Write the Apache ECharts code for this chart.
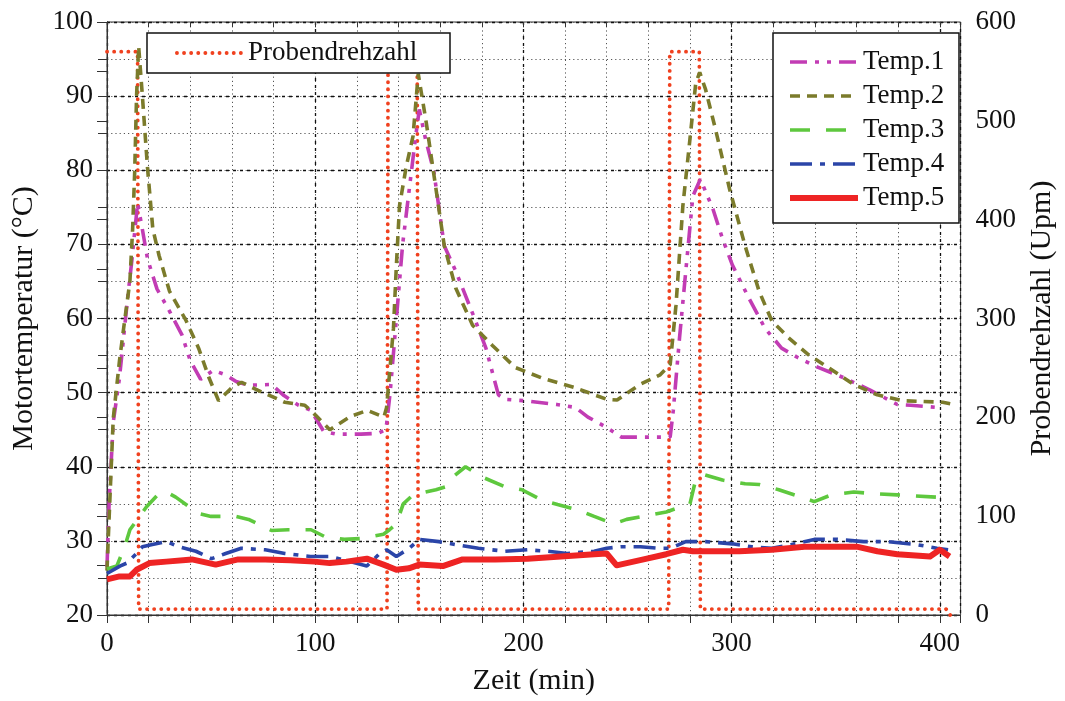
<!DOCTYPE html>
<html><head><meta charset="utf-8">
<script src="https://cdn.jsdelivr.net/npm/echarts@6/dist/echarts.min.js"></script>
<style>html,body{margin:0;padding:0;background:#fff}#c{width:1065px;height:701px}</style>
</head><body><div id="c"></div>
<script>
// ---- data: [time (min), value] ----
const rpm = [[0,570],[14.7,570],[15.2,6],[134.5,6],[135,570],[149,570],[149.5,6],[269.8,6],[270.3,570],[284.5,570],[285,6],[403,6],[405,0]];
const temp1 = [[0,26.5],[1,35],[3,46],[6,52],[10,63],[12,68],[14.7,75.6],[17,72],[19.5,68],[24,64],[30,61],[36,57.8],[40,54.3],[45,51.8],[51,53],[57,52.4],[62,51.5],[68,51],[79,51.1],[85,49.6],[92,48.3],[98,47.6],[104,44.8],[110,44.4],[122,44.4],[130,44.5],[134,45],[136,50],[139,60],[142,70],[145,77],[148,84],[150,88.2],[153,84.2],[157,79.8],[162,69.8],[167.5,66.4],[177,59.7],[182,56],[188,49.7],[191,49.1],[201,48.9],[216,48.4],[225,48],[231,46.7],[240,45.3],[247,44],[259,44],[270.5,44],[272,47.6],[275,57.4],[278,66.4],[281.4,76.5],[285,78.8],[291,74.8],[295.6,70.8],[300.4,67.2],[308.4,62.7],[316,58.7],[324,56],[332,54.7],[341.6,53.4],[354,52],[366.8,50.3],[379.6,48.4],[386,48.3],[399,48]];
const temp2 = [[0,26],[1,33],[3,46.5],[6,54.3],[8,58.7],[11,65],[12.3,72],[13.3,79.8],[14.2,90],[15.2,96.7],[17,90],[19.5,80.2],[22,72.1],[25,68.5],[30,63.7],[38,59.7],[44,56],[49,52],[53.6,48.9],[60,50.7],[64.6,51.4],[72.6,50.3],[85.4,48.7],[95,48.3],[100,47],[107,45],[117,46.8],[125,47.6],[133,46.7],[134.3,48],[137.6,58.7],[139,67.2],[140.5,75.2],[143.8,80.6],[147,84.6],[149.5,93],[153.3,86.5],[158,77.5],[162,69.8],[167.5,64.1],[175.6,59.1],[185,56.4],[196,53.4],[208.6,52],[224.4,50.7],[240,49.1],[245,49],[256,51.1],[265.7,52.4],[270.5,53.8],[273.3,61.8],[276.6,75.2],[280,84.2],[282.8,91.8],[284.7,93.2],[287.5,90.9],[292.3,85.5],[299,77.5],[306.5,69.8],[313.2,63.7],[319.3,59.7],[327.4,57.4],[337,55.1],[346.4,53.4],[358.7,51.1],[370,49.7],[382.4,48.9],[401.4,48.7],[405,48.5]];
const temp3 = [[0,26.2],[4.7,26.6],[8.5,29.2],[11,31.5],[15.7,33.3],[19,34.6],[25,36.4],[28.5,36.6],[33,35.9],[44,33.7],[50,33.3],[62,33.3],[68,32.9],[79,31.4],[87,31.5],[98,31.5],[104.4,30.6],[114,30.2],[121.5,30.3],[132.8,30.9],[135.7,31.5],[139,32.3],[142.3,35],[147,36.2],[158,36.9],[162.8,37.3],[166,38.6],[172.2,40],[180.3,38.6],[191.2,37.3],[199.3,36.9],[208.8,35.5],[216.4,34.9],[226,34.2],[234,33.3],[243.4,32.3],[249.6,32.9],[261,33.5],[268.6,33.9],[280,35],[282.3,37.7],[286,39],[295.6,38.2],[306.5,37.7],[313.2,37.6],[322.7,36.9],[330.3,36.2],[339.7,35.3],[347.8,36.2],[358.7,36.6],[366.8,36.4],[379.6,36.2],[398.6,35.9],[404,35.5]];
const temp4 = [[0,25.6],[6.2,26.6],[9.5,27],[14.2,28.3],[17,29.2],[21.8,29.5],[28.5,29.9],[34.6,29.2],[42.7,28.6],[50.3,27.6],[57,28.3],[64.5,29],[76,28.8],[85.4,28.3],[97.7,27.9],[107.2,27.9],[116.7,27.2],[124.8,26.6],[131,28.3],[134.3,28.8],[139,27.9],[145.2,29],[150,30.2],[159.4,29.9],[167.5,29.5],[178.4,29],[191.2,28.6],[202,28.8],[211.6,28.6],[221,28.3],[234,28.6],[240,29],[246.7,29.2],[256.2,29.2],[265.7,29],[270.5,29],[278,29.9],[287.5,29.9],[300.4,29.6],[309.8,29.2],[319.3,29],[328.8,29.5],[339.7,30.2],[351,30.2],[363.5,29.9],[374.8,29.9],[389,29.5],[398.6,29],[404,28.8]];
const temp5 = [[0,24.8],[6,25.2],[11,25.2],[14.2,26.1],[20.4,27],[28.5,27.2],[40.8,27.5],[52.2,26.8],[63,27.5],[76,27.5],[88,27.4],[99.6,27.2],[107,27],[115,27.2],[124.8,27.6],[132.8,26.8],[139,26.1],[145,26.3],[150,26.8],[161.3,26.6],[170.8,27.5],[186.5,27.5],[202,27.6],[218,27.9],[234,28.2],[240,28.3],[244.8,26.7],[257.7,27.5],[268.6,28.2],[276.6,28.8],[281.4,28.6],[290.9,28.6],[303.7,28.6],[319.3,28.8],[335,29.2],[351,29.2],[360.6,29.2],[370,28.6],[379.6,28.2],[395.3,27.9],[400,28.8],[404.7,27.9]];
// ---- tick labels ----
const xLabels = [0,100,200,300,400];
const yLeftLabels = [20,30,40,50,60,70,80,90,100];
const yRightLabels = [0,100,200,300,400,500,600];

const FONT = 'Liberation Serif';
const styles = {
  'Probendrehzahl': {color:'#f0411f', width:3.8, type:[0.1,7], cap:'round'},
  'Temp.1': {color:'#c23cb4', width:3.6, type:[17,8,4,8,4,8]},
  'Temp.2': {color:'#7b7b2b', width:3.6, type:[10,7]},
  'Temp.3': {color:'#5ec83e', width:3.6, type:[20,16]},
  'Temp.4': {color:'#2b45a8', width:3.6, type:[22,8,5,8]},
  'Temp.5': {color:'#ee2424', width:6, type:'solid', join:'round'}
};
function mkSeries(name, data, yIdx){
  return {name, type:'line', data, xAxisIndex:0, yAxisIndex:yIdx, symbol:'none', silent:true, z:2,
    lineStyle:styles[name], itemStyle:{color:styles[name].color}};
}
function legItem(name){
  return {name, lineStyle:styles[name],
    itemStyle:{color:'rgba(0,0,0,0)', borderColor:'rgba(0,0,0,0)', borderWidth:0, opacity:0}};
}

const chart = echarts.init(document.getElementById('c'), null, {renderer:'canvas'});
chart.setOption({
  animation:false,
  backgroundColor:'#fff',
  textStyle:{fontFamily:FONT},
  grid:{left:107, right:95, top:22, bottom:82, show:true, borderColor:'#333', borderWidth:1, backgroundColor:'transparent'},
  xAxis:[
    {type:'value', position:'bottom', min:0, max:410, interval:20,
     name:'Zeit (min)', nameLocation:'middle', nameGap:51,
     nameTextStyle:{fontFamily:FONT, fontSize:30, color:'#111'},
     axisLine:{show:true, lineStyle:{color:'#333', width:1}},
     axisTick:{show:true, inside:false, length:8, lineStyle:{color:'#333'}},
     axisLabel:{margin:15, fontFamily:FONT, fontSize:27, color:'#111',
       formatter:v=> xLabels.includes(v) ? String(v) : ''},
     splitLine:{show:true, lineStyle:{color:'#555', width:1, type:[1.2,3]}}},
    {type:'value', position:'bottom', min:0, max:410, interval:100,
     axisLine:{show:false}, axisTick:{show:false}, axisLabel:{show:false},
     splitLine:{show:true, lineStyle:{color:'#111', width:1.3, type:[3,4]}}},
    {type:'value', position:'top', min:0, max:410, interval:20,
     axisLine:{show:false}, axisTick:{show:true, inside:true, length:5, lineStyle:{color:'#333'}},
     axisLabel:{show:false}, splitLine:{show:false}}
  ],
  yAxis:[
    {type:'value', position:'left', min:20, max:100, interval:5,
     name:'Motortemperatur (°C)', nameLocation:'middle', nameGap:68,
     nameTextStyle:{fontFamily:FONT, fontSize:30, color:'#111'},
     axisLine:{show:true, lineStyle:{color:'#333', width:1}},
     axisTick:{show:true, inside:false, length:9, lineStyle:{color:'#333'}},
     axisLabel:{margin:14, fontFamily:FONT, fontSize:27, color:'#111',
       formatter:v=> yLeftLabels.includes(v) ? String(v) : ''},
     splitLine:{show:true, lineStyle:{color:'#555', width:1, type:[1.2,3]}}},
    {type:'value', position:'left', min:20, max:100, interval:10,
     axisLine:{show:false}, axisTick:{show:false}, axisLabel:{show:false},
     splitLine:{show:true, lineStyle:{color:'#111', width:1.3, type:[3,4]}}},
    {type:'value', position:'right', min:0, max:600, interval:50,
     name:'Probendrehzahl (Upm)', nameLocation:'middle', nameGap:60,
     nameTextStyle:{fontFamily:FONT, fontSize:30, color:'#111'},
     axisLine:{show:true, lineStyle:{color:'#333', width:1}},
     axisTick:{show:true, inside:true, length:10, lineStyle:{color:'#333'}},
     axisLabel:{margin:15, fontFamily:FONT, fontSize:27, color:'#111',
       formatter:v=> yRightLabels.includes(v) ? String(v) : ''},
     splitLine:{show:false}}
  ],
  graphic:{
    z:10, zlevel:0,
    elements:[
      {type:'rect', z:10, shape:{x:147, y:33, width:303, height:40}, style:{fill:'#fff', stroke:'#111', lineWidth:1.5}},
      {type:'rect', z:10, shape:{x:773, y:33, width:186, height:190}, style:{fill:'#fff', stroke:'#111', lineWidth:1.5}}
    ]
  },
  legend:[
    {left:175, top:38, padding:0, orient:'horizontal', selectedMode:false, z:20,
     itemWidth:66, itemHeight:14, data:[legItem('Probendrehzahl')],
     textStyle:{fontFamily:FONT, fontSize:27, color:'#111', lineHeight:30}},
    {left:787, top:47, padding:0, orient:'vertical', selectedMode:false, z:20,
     itemWidth:68, itemHeight:14, itemGap:4,
     data:['Temp.1','Temp.2','Temp.3','Temp.4','Temp.5'].map(legItem),
     textStyle:{fontFamily:FONT, fontSize:27, color:'#111', lineHeight:30}}
  ],
  series:[
    mkSeries('Probendrehzahl', rpm, 2),
    mkSeries('Temp.1', temp1, 0),
    mkSeries('Temp.2', temp2, 0),
    mkSeries('Temp.3', temp3, 0),
    mkSeries('Temp.4', temp4, 0),
    mkSeries('Temp.5', temp5, 0)
  ]
});
</script></body></html>
